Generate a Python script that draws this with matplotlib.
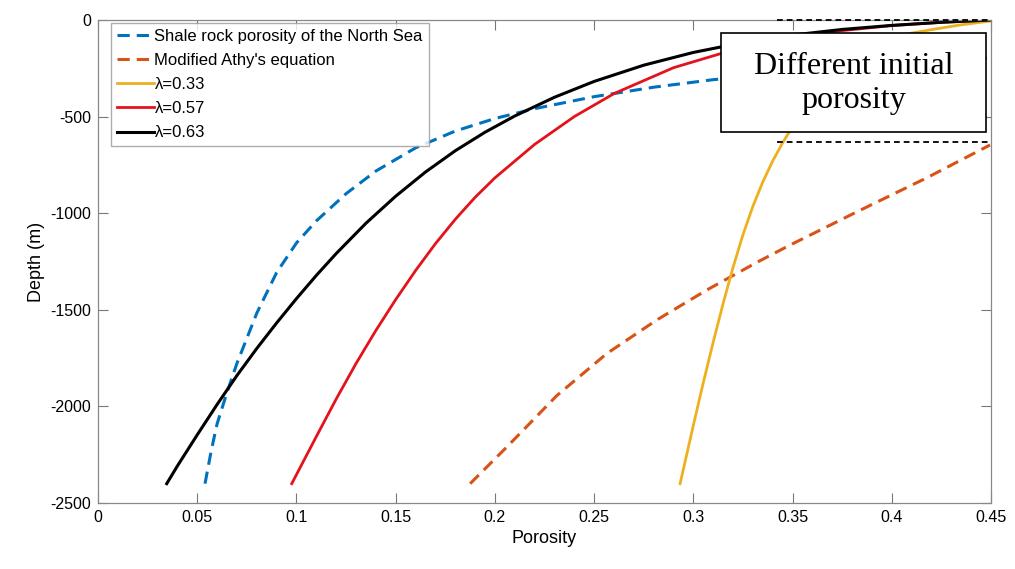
import numpy as np
import matplotlib
matplotlib.use('Agg')
import matplotlib.pyplot as plt
from matplotlib.patches import Rectangle

plt.rcParams['font.family'] = ['Liberation Sans', 'DejaVu Sans']
plt.rcParams['axes.unicode_minus'] = False

shale_por = [0.0539, 0.057, 0.060, 0.065, 0.070, 0.080, 0.090, 0.100, 0.110, 0.125,
             0.140, 0.160, 0.180, 0.200, 0.220, 0.250, 0.280, 0.310, 0.350, 0.400, 0.450]
shale_dep = [-2400, -2231, -2090, -1927, -1777, -1517, -1307, -1154, -1040, -899,
             -782, -662, -575, -510, -459, -397, -348, -309, -270, -231, -197]

athy_por = [0.1875, 0.2060, 0.2311, 0.2563, 0.2815, 0.3067, 0.3319, 0.3487, 0.3840, 0.4176, 0.4495]
athy_dep = [-2400, -2210, -1945, -1727, -1553, -1398, -1255, -1165, -985, -817, -647]

l033_por = [0.2933, 0.300, 0.305, 0.310, 0.315, 0.320, 0.325, 0.330, 0.335, 0.340, 0.345,
            0.350, 0.360, 0.370, 0.380, 0.390, 0.400, 0.410, 0.420, 0.435, 0.450]
l033_dep = [-2400, -2097, -1877, -1667, -1467, -1280, -1111, -964, -838, -729, -635,
            -552, -410, -290, -195, -130, -90, -68, -50, -25, -5]

l057_por = [0.0976, 0.110, 0.120, 0.130, 0.140, 0.150, 0.160, 0.170, 0.180, 0.190, 0.200,
            0.220, 0.240, 0.260, 0.290, 0.320, 0.350, 0.375, 0.400, 0.425, 0.450]
l057_dep = [-2400, -2156, -1962, -1778, -1607, -1447, -1297, -1158, -1032, -918, -817,
            -644, -500, -381, -247, -155, -92, -55, -29, -12, 0]

l063_por = [0.0346, 0.040, 0.050, 0.060, 0.070, 0.080, 0.090, 0.100, 0.110, 0.120, 0.135,
            0.150, 0.165, 0.180, 0.195, 0.210, 0.230, 0.250, 0.275, 0.300, 0.325, 0.350,
            0.375, 0.400, 0.425, 0.450]
l063_dep = [-2400, -2308, -2147, -1990, -1840, -1700, -1568, -1442, -1322, -1209, -1052,
            -912, -787, -677, -581, -497, -400, -318, -234, -168, -117, -78,
            -49, -28, -12, 0]

x_ticks = [0, 0.05, 0.1, 0.15, 0.2, 0.25, 0.3, 0.35, 0.4, 0.45]
x_labels = ['0', '0.05', '0.1', '0.15', '0.2', '0.25', '0.3', '0.35', '0.4', '0.45']
y_ticks = [-2500, -2000, -1500, -1000, -500, 0]

fig = plt.figure(figsize=(10.15, 5.69), dpi=100)
ax = fig.add_axes([0.0966, 0.116, 0.8798, 0.8489])

ax.plot(shale_por, shale_dep, color='#0072BD', lw=2.2, dashes=(4, 2.3),
        label='Shale rock porosity of the North Sea')
ax.plot(athy_por, athy_dep, color='#D95319', lw=2.2, dashes=(4, 2.3),
        label="Modified Athy's equation")
ax.plot(l033_por, l033_dep, color='#EDB120', lw=2.0, label='λ=0.33')
ax.plot(l057_por, l057_dep, color='#E3121B', lw=2.0, label='λ=0.57')
ax.plot(l063_por, l063_dep, color='black', lw=2.2, label='λ=0.63')

ax.set_xlim(0, 0.45)
ax.set_ylim(-2500, 0)
ax.set_xticks(x_ticks)
ax.set_xticklabels(x_labels)
ax.set_yticks(y_ticks)
ax.tick_params(direction='in', length=7, width=0.8, color='#777777', labelsize=11.5,
               top=True, right=True, pad=5)
for s in ax.spines.values():
    s.set_color('#888888')
    s.set_linewidth(0.9)
ax.set_xlabel('Porosity', fontsize=13, labelpad=4)
ax.set_ylabel('Depth (m)', fontsize=13, labelpad=4)

leg = ax.legend(loc='upper left', bbox_to_anchor=(0.0146, 0.994), borderaxespad=0,
                fontsize=12, handlelength=2.2, handletextpad=0.05, labelspacing=0.55,
                borderpad=0.35, frameon=True, fancybox=False)
leg.get_frame().set_edgecolor('#999999')
leg.get_frame().set_linewidth(1.0)

# annotation box
ax.add_patch(Rectangle((0.314, -578), 0.1335, 509, facecolor='white', edgecolor='black',
                       lw=1.2, zorder=5))
ax.text(0.381, -328, 'Different initial\nporosity', ha='center', va='center',
        fontsize=23, family='Liberation Serif', linespacing=1.2, zorder=6)
ax.plot([0.342, 0.45], [0, 0], color='black', lw=1.3, dashes=(3.2, 2.2), zorder=7, clip_on=False)
ax.plot([0.342, 0.45], [-630, -630], color='black', lw=1.3, dashes=(3.2, 2.2), zorder=7,
        clip_on=False)

fig.savefig('out.png', dpi=100)
